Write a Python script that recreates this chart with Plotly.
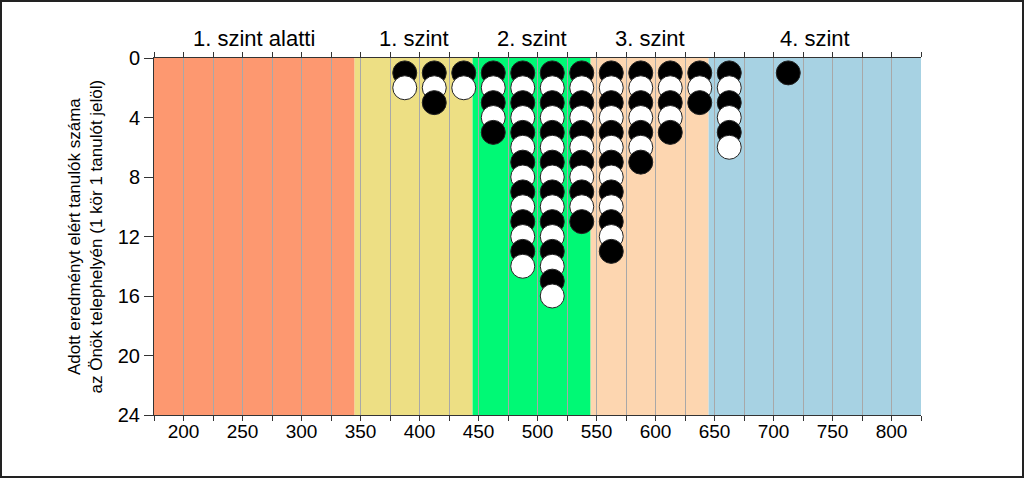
import plotly.graph_objects as go

# ---- data ----
score_bins = [387.5, 412.5, 437.5, 462.5, 487.5, 512.5, 537.5, 562.5, 587.5, 612.5, 637.5, 662.5, 712.5]
student_counts = [2, 3, 2, 5, 14, 16, 11, 13, 7, 5, 3, 6, 1]

level_names = ["1. szint alatti", "1. szint", "2. szint", "3. szint", "4. szint"]
level_edges = [175, 345, 445, 545, 645, 825]
level_colors = ["#FD9870", "#EDDF84", "#00F975", "#FDD6B0", "#A7D2E3"]

x_ticks = list(range(175, 826, 25))
x_ticklabels = [str(v) if v % 50 == 0 else "" for v in x_ticks]
y_ticks = [0, 4, 8, 12, 16, 20, 24]

y_title = "Adott eredményt elért tanulók száma<br>az Önök telephelyén (1 kör 1 tanulót jelöl)"

FONT = "Liberation Sans, Arial, sans-serif"

# expand counts into stacked points (drawn top to bottom so lower circles overlap upper ones)
xs, ys, fills = [], [], []
for xb, n in zip(score_bins, student_counts):
    for k in range(1, n + 1):
        xs.append(xb)
        ys.append(k)
        fills.append("black" if k % 2 == 1 else "white")

fig = go.Figure()
fig.add_trace(go.Scatter(
    x=xs, y=ys, mode="markers",
    marker=dict(size=24, color=fills, line=dict(color="#222222", width=1)),
    hoverinfo="skip", showlegend=False,
))

shapes = []
for i, name in enumerate(level_names):
    shapes.append(dict(type="rect", xref="x", yref="y",
                       x0=level_edges[i], x1=level_edges[i + 1], y0=0, y1=24,
                       fillcolor=level_colors[i], line=dict(width=0), layer="below"))

W, H = 1024, 478
ml, mr, mt, mb = 154, 103, 58, 63
pw, ph = W - ml - mr, H - mt - mb
shapes.append(dict(type="rect", xref="paper", yref="paper",
                   x0=(-ml + 1) / pw, x1=1 + (mr - 1) / pw,
                   y0=(-mb + 1) / ph, y1=1 + (mt - 1) / ph,
                   line=dict(color="#222222", width=2), fillcolor="rgba(0,0,0,0)", layer="above"))

annotations = []
for i, name in enumerate(level_names):
    annotations.append(dict(x=(level_edges[i] + level_edges[i + 1]) / 2, y=1 + 19 / ph,
                            xref="x", yref="paper", text=name, showarrow=False,
                            xanchor="center", yanchor="middle",
                            font=dict(family=FONT, size=22, color="black")))
annotations.append(dict(x=(85 - ml) / pw, y=0.5, xref="paper", yref="paper",
                        text=y_title, showarrow=False, textangle=-90,
                        xanchor="center", yanchor="middle",
                        font=dict(family=FONT, size=17, color="black")))

fig.update_layout(
    width=W, height=H,
    margin=dict(l=ml, r=mr, t=mt, b=mb, pad=0),
    paper_bgcolor="white", plot_bgcolor="white",
    shapes=shapes, annotations=annotations,
    font=dict(family=FONT, color="black"),
    xaxis=dict(range=[175, 825], tickmode="array", tickvals=x_ticks, ticktext=x_ticklabels,
               ticks="outside", ticklen=5, tickcolor="#333333", tickwidth=1,
               showline=True, linecolor="#333333", linewidth=1, mirror="ticks",
               showgrid=True, gridcolor="#A8A8A8", gridwidth=1, zeroline=False,
               ticklabelstandoff=-6,
               tickfont=dict(size=19, family=FONT)),
    yaxis=dict(range=[24, 0], tickmode="array", tickvals=y_ticks,
               ticks="outside", ticklen=9, tickcolor="#333333", tickwidth=1,
               showline=True, linecolor="#333333", linewidth=1, mirror=False,
               showgrid=False, zeroline=False,
               tickfont=dict(size=20, family=FONT)),
)

fig.write_html("out.html")
